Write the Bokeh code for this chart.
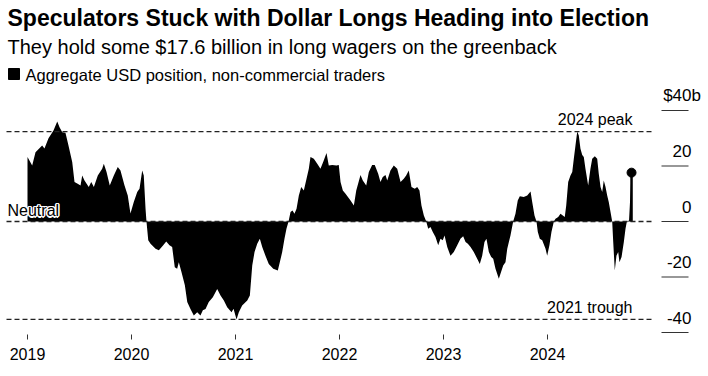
from bokeh.plotting import figure
from bokeh.models import Range1d, FixedTicker
from bokeh.core.properties import value
from bokeh.embed import file_html
from bokeh.resources import INLINE

# ---------------- data ----------------
title = "Speculators Stuck with Dollar Longs Heading into Election"
subtitle = "They hold some $17.6 billion in long wagers on the greenback"
legend_label = "Aggregate USD position, non-commercial traders"

# dates as decimal years, values in $ billions
dates_2019 = [2019.000, 2019.045, 2019.077, 2019.141, 2019.163, 2019.202, 2019.250, 2019.286,
              2019.308, 2019.334, 2019.365, 2019.394, 2019.430, 2019.452, 2019.478, 2019.510,
              2019.526, 2019.548, 2019.589, 2019.613, 2019.638, 2019.676, 2019.718, 2019.734,
              2019.760, 2019.791, 2019.830, 2019.868, 2019.894, 2019.933, 2019.964, 2019.990]
usd_2019 = [23.2, 20.2, 25.0, 27.4, 26.3, 30.0, 32.8, 36.0,
            34.0, 32.2, 32.0, 27.4, 21.4, 14.2, 13.7, 13.0,
            16.6, 14.8, 12.4, 14.2, 12.4, 16.6, 19.0, 20.8,
            17.8, 13.0, 16.6, 19.6, 18.4, 13.0, 9.4, 2.9]

dates_2020 = [2020.022, 2020.055, 2020.077, 2020.103, 2020.118, 2020.135, 2020.144, 2020.161,
              2020.183, 2020.231, 2020.263, 2020.301, 2020.334, 2020.365, 2020.391, 2020.416,
              2020.439, 2020.455, 2020.481, 2020.513, 2020.536, 2020.567, 2020.599, 2020.632,
              2020.663, 2020.686, 2020.712, 2020.743, 2020.782, 2020.824, 2020.856, 2020.888,
              2020.920, 2020.962, 2020.981]
usd_2020 = [7.0, 10.6, 11.8, 18.4, 16.6, 4.6, 0.0, -6.8,
            -8.0, -9.8, -10.4, -8.7, -7.2, -8.6, -9.2, -16.5,
            -17.0, -14.7, -18.3, -23.0, -29.0, -31.5, -33.9, -32.7,
            -33.9, -32.0, -31.5, -29.0, -27.3, -24.3, -26.7, -28.5,
            -30.9, -32.7, -31.4]

dates_2021 = [2021.010, 2021.032, 2021.064, 2021.113, 2021.138, 2021.161, 2021.183, 2021.209,
              2021.234, 2021.257, 2021.288, 2021.320, 2021.363, 2021.407, 2021.426, 2021.449,
              2021.471, 2021.490, 2021.510, 2021.529, 2021.548, 2021.567, 2021.587, 2021.609,
              2021.632, 2021.657, 2021.683, 2021.705, 2021.721, 2021.753, 2021.786, 2021.817,
              2021.843, 2021.875, 2021.897, 2021.930, 2021.971, 2021.993]
usd_2021 = [-35.3, -32.7, -30.3, -28.5, -26.7, -15.9, -11.0, -8.0,
            -6.2, -9.2, -12.3, -15.3, -17.0, -17.7, -14.7, -11.0,
            -6.2, -2.6, 0.0, 3.4, 4.0, 2.8, 4.6, 9.4,
            12.4, 11.2, 15.4, 19.0, 23.2, 22.6, 20.8, 19.0,
            21.4, 24.7, 20.2, 20.4, 20.2, 20.4]

dates_2022 = [2022.010, 2022.032, 2022.058, 2022.106, 2022.138, 2022.161, 2022.202, 2022.224,
              2022.257, 2022.282, 2022.314, 2022.339, 2022.372, 2022.394, 2022.416, 2022.442,
              2022.459, 2022.490, 2022.522, 2022.555, 2022.587, 2022.618, 2022.641, 2022.666,
              2022.692, 2022.724, 2022.747, 2022.769, 2022.788, 2022.811, 2022.834, 2022.853,
              2022.875, 2022.897, 2022.923, 2022.949, 2022.971, 2022.993]
usd_2022 = [14.2, 11.2, 10.0, 7.6, 5.8, 11.2, 16.8, 14.8,
            13.0, 17.8, 20.4, 20.4, 17.2, 14.2, 16.0, 16.8,
            14.8, 18.4, 20.2, 19.0, 14.2, 15.4, 16.6, 18.4,
            12.4, 11.8, 12.4, 11.2, 5.8, 2.2, 0.0, -2.6,
            -2.0, -3.8, -5.6, -8.6, -6.2, -6.8]

dates_2023 = [2023.010, 2023.036, 2023.067, 2023.099, 2023.132, 2023.163, 2023.189, 2023.212,
              2023.234, 2023.260, 2023.291, 2023.324, 2023.349, 2023.372, 2023.394, 2023.413,
              2023.436, 2023.459, 2023.478, 2023.500, 2023.532, 2023.548, 2023.574, 2023.596,
              2023.613, 2023.644, 2023.670, 2023.692, 2023.714, 2023.734, 2023.772, 2023.805,
              2023.837, 2023.853, 2023.875, 2023.894, 2023.907, 2023.926, 2023.949, 2023.981,
              2023.997]
usd_2023 = [-5.0, -9.2, -12.3, -11.0, -8.6, -6.2, -5.3, -7.4,
            -8.0, -9.2, -11.0, -13.4, -15.3, -12.3, -7.4, -6.2,
            -11.0, -12.8, -13.4, -17.0, -20.6, -18.8, -15.9, -14.7,
            -9.8, -5.0, 0.0, 2.8, 7.6, 9.1, 8.8, 9.4,
            10.8, 7.0, 2.2, 0.0, -3.8, -6.2, -6.8, -9.8,
            -12.3]

dates_2024 = [2024.019, 2024.038, 2024.061, 2024.077, 2024.103, 2024.125, 2024.147, 2024.166,
              2024.180, 2024.199, 2024.221, 2024.238, 2024.253, 2024.269, 2024.286, 2024.301,
              2024.317, 2024.334, 2024.349, 2024.365, 2024.391, 2024.413, 2024.430, 2024.455,
              2024.478, 2024.493, 2024.510, 2024.526, 2024.541, 2024.558, 2024.574, 2024.589,
              2024.606, 2024.622, 2024.632, 2024.647, 2024.663, 2024.680, 2024.692, 2024.712,
              2024.734, 2024.750, 2024.763, 2024.784, 2024.808]
usd_2024 = [-8.5, -3.8, 0.0, 1.0, 1.6, 2.8, 2.2, 1.6,
            5.8, 14.2, 16.6, 17.8, 22.6, 27.4, 32.4, 31.0,
            26.2, 24.0, 23.2, 19.0, 13.0, 19.0, 22.6, 23.5,
            22.6, 17.2, 12.4, 10.6, 14.8, 12.4, 9.4, 7.0,
            3.4, 0.0, -7.4, -17.7, -12.3, -11.0, -14.7, -12.8,
            -7.4, -2.6, 0.0, 0.4, 17.6]

year_ticks = [2019, 2020, 2021, 2022, 2023, 2024]
y_ticks = [40, 20, 0, -20, -40]
y_tick_labels = ["$40", "20", "0", "-20", "-40"]

for d, v in [(dates_2019, usd_2019), (dates_2020, usd_2020), (dates_2021, usd_2021),
             (dates_2022, usd_2022), (dates_2023, usd_2023), (dates_2024, usd_2024)]:
    assert len(d) == len(v)

dates = dates_2019 + dates_2020 + dates_2021 + dates_2022 + dates_2023 + dates_2024
usd = usd_2019 + usd_2020 + usd_2021 + usd_2022 + usd_2023 + usd_2024
peak_2024 = max(usd_2024)
trough_2021 = min(usd_2021)

# ---------------- layout ----------------
W, H = 708, 376
BOTTOM = 42
PX_YEAR = 104.0          # pixels per year
X_FIRST_PX = 27.0        # pixel of first year tick
ZERO_PX = 221.0          # pixel row of zero line
PX_UNIT = 2.775          # pixels per $1b

x_start = year_ticks[0] - X_FIRST_PX / PX_YEAR
x_end = x_start + W / PX_YEAR
y_end = ZERO_PX / PX_UNIT
y_start = -((H - BOTTOM) - ZERO_PX) / PX_UNIT


def fx(px):
    return x_start + px / PX_YEAR


def fy(py):
    return (ZERO_PX - py) / PX_UNIT


FONT = value("Liberation Sans")
INK = "#000000"

p = figure(width=W, height=H, output_backend="svg", toolbar_location=None,
           x_range=Range1d(x_start, x_end), y_range=Range1d(y_start, y_end),
           y_axis_location=None, min_border_left=0, min_border_right=0,
           min_border_top=0, min_border_bottom=BOTTOM)
p.outline_line_color = None
p.grid.visible = False
p.background_fill_color = "white"
p.border_fill_color = "white"

ax = p.xaxis[0]
ax.ticker = FixedTicker(ticks=year_ticks)
ax.major_label_overrides = {y: str(y) for y in year_ticks}
ax.axis_line_color = None
ax.major_tick_in = 0
ax.major_tick_out = 5
ax.major_tick_line_color = "#333333"
ax.minor_tick_line_color = None
ax.major_label_text_font = "Liberation Sans"
ax.major_label_text_font_size = "16px"
ax.major_label_text_color = INK
ax.major_label_standoff = 8

# area
p.varea(x=dates, y1=0, y2=usd, fill_color=INK)
p.segment(x0=[dates[-1]], x1=[dates[-1]], y0=[0], y1=[usd[-1]], line_color=INK, line_width=2.5)
p.scatter(x=[dates[-1]], y=[usd[-1]], size=9, color=INK)

# reference lines
for lvl in [peak_2024, 0, trough_2021]:
    p.segment(x0=[fx(6)], x1=[fx(654)], y0=[lvl], y1=[lvl], line_color="#222222",
              line_width=1.3, line_dash="5 3")

# right-side scale
p.segment(x0=[fx(661)] * len(y_ticks), x1=[fx(688)] * len(y_ticks), y0=y_ticks, y1=y_ticks,
          line_color="#333333", line_width=1.2)
p.text(x=[fx(691)] * len(y_ticks), y=y_ticks, text=y_tick_labels, y_offset=-15,
       text_align="right", text_baseline="middle", text_font=FONT, text_font_size="17px",
       text_color=INK)
p.text(x=[fx(691)], y=[y_ticks[0]], text=["b"], y_offset=-15, text_align="left",
       text_baseline="middle", text_font=FONT, text_font_size="17px", text_color=INK)

# annotations (middle baseline)
p.text(x=[fx(632)], y=[fy(119)], text=["2024 peak"], text_align="right",
       text_baseline="middle", text_font=FONT, text_font_size="16px", text_color=INK)
p.text(x=[fx(632)], y=[fy(307)], text=["2021 trough"], text_align="right",
       text_baseline="middle", text_font=FONT, text_font_size="16px", text_color=INK)
for dx, dy in [(-1, -1), (-1, 1), (1, -1), (1, 1), (0, -1.5), (0, 1.5), (-1.5, 0), (1.5, 0)]:
    p.text(x=[fx(7)], y=[fy(210)], text=["Neutral"], x_offset=dx, y_offset=dy,
           text_align="left", text_baseline="middle", text_font=FONT,
           text_font_size="16px", text_color="white")
p.text(x=[fx(7)], y=[fy(210)], text=["Neutral"], text_align="left",
       text_baseline="middle", text_font=FONT, text_font_size="16px", text_color=INK)

# headings
p.text(x=[fx(7)], y=[fy(17)], text=[title], text_align="left", text_baseline="middle",
       text_font=FONT, text_font_style="bold", text_font_size="23px", text_color=INK)
p.text(x=[fx(7)], y=[fy(46)], text=[subtitle], text_align="left", text_baseline="middle",
       text_font=FONT, text_font_size="20px", text_color=INK)
p.quad(left=[fx(8)], right=[fx(19)], top=[fy(68)], bottom=[fy(79)], color=INK)
p.text(x=[fx(25)], y=[fy(74)], text=[legend_label], text_align="left",
       text_baseline="middle", text_font=FONT, text_font_size="16.5px", text_color=INK)

open("out.html", "w").write(file_html(p, INLINE))
